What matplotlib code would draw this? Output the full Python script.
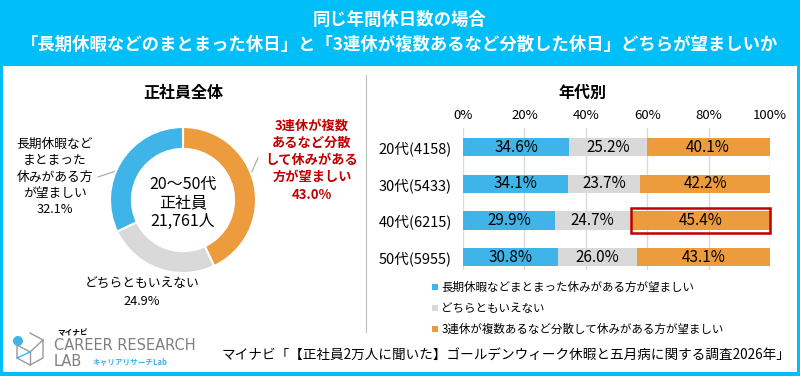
import matplotlib.pyplot as plt
from matplotlib.patches import Rectangle, Circle

plt.rcParams['font.family'] = ['Noto Sans CJK JP', 'DejaVu Sans']

# data
title_lines = ['同じ年間休日数の場合',
               '「長期休暇などのまとまった休日」と「3連休が複数あるなど分散した休日」どちらが望ましいか']
answers = ['長期休暇などまとまった休みがある方が望ましい',
           'どちらともいえない',
           '3連休が複数あるなど分散して休みがある方が望ましい']
total_share = [32.1, 24.9, 43.0]
ages = ['20代(4158)', '30代(5433)', '40代(6215)', '50代(5955)']
age_long = [34.6, 34.1, 29.9, 30.8]
age_neutral = [25.2, 23.7, 24.7, 26.0]
age_spread = [40.1, 42.2, 45.4, 43.1]
xticks = [0, 20, 40, 60, 80, 100]
source = 'マイナビ「【正社員2万人に聞いた】ゴールデンウィーク休暇と五月病に関する調査2026年」'

CYAN = '#00BEF8'
BLUE = '#3FB4E8'
GRAY = '#D9D9D9'
ORANGE = '#EC9B3D'
RED = '#C00000'

W, H = 800, 376
fig = plt.figure(figsize=(W / 100, H / 100), dpi=100, facecolor=CYAN)

# overlay in pixel coords
bg = fig.add_axes([0, 0, 1, 1])
bg.set_xlim(0, W)
bg.set_ylim(H, 0)
bg.axis('off')
bg.add_patch(Rectangle((3, 66), 794, 306, facecolor='white', edgecolor='none'))
bg.text(400, 20, title_lines[0], ha='center', va='center', color='white',
        fontsize=12.5, fontweight='bold')
bg.text(400, 45, title_lines[1], ha='center', va='center', color='white',
        fontsize=12.5, fontweight='bold')
bg.plot([366, 366], [75, 332], color='#BFBFBF', lw=0.8)
bg.text(183, 93, '正社員全体', ha='center', va='center', fontsize=11.5, fontweight='bold')
bg.text(582, 93, '年代別', ha='center', va='center', fontsize=11.5, fontweight='bold')

# donut labels
bg.text(55, 177, '長期休暇など\nまとまった\n休みがある方\nが望ましい\n%.1f%%' % total_share[0],
        ha='center', va='center', fontsize=9.2, linespacing=1.33)
bg.text(312, 160, '3連休が複数\nあるなど分散\nして休みがある\n方が望ましい\n%.1f%%' % total_share[2],
        ha='center', va='center', fontsize=9.5, linespacing=1.3, color=RED, fontweight='bold')
bg.text(142, 293, '%s\n%.1f%%' % (answers[1], total_share[1]),
        ha='center', va='center', fontsize=9.2, linespacing=1.35)
bg.plot([98, 128], [177, 167], color='#A6A6A6', lw=0.8)
bg.plot([258, 245], [158, 187], color='#A6A6A6', lw=0.8)
bg.text(183, 203, '20～50代\n正社員\n21,761人', ha='center', va='center',
        fontsize=11.5, linespacing=1.1)

# source and logo
bg.text(790, 355, source, ha='right', va='center', fontsize=9.8)
bg.plot([30, 43, 43, 30, 17, 17, 30, 43], [333, 340, 358, 365, 358, 345, 352, 340],
        color='#9A9A9A', lw=1.0)
bg.plot([30, 30], [352, 365], color='#9A9A9A', lw=1.0)
bg.plot([17, 30], [358, 352], color=BLUE, lw=1.0)
bg.add_patch(Circle((18, 341), 5, facecolor=BLUE, edgecolor='none'))
bg.text(57, 333, 'マイナビ', ha='left', va='center', fontsize=5.5, fontweight='bold')
bg.text(54, 346, 'CAREER RESEARCH', ha='left', va='center', fontsize=10.5,
        color='#7F7F7F', family='DejaVu Sans')
bg.text(54, 362, 'LAB', ha='left', va='center', fontsize=10.5, color='#7F7F7F',
        family='DejaVu Sans')
bg.text(92, 362, 'キャリアリサーチLab', ha='left', va='center', fontsize=5.5,
        color=BLUE, fontweight='bold')

# donut
r = 73
cx, cy = 183, 200
ax1 = fig.add_axes([(cx - r) / W, (H - cy - r) / H, 2 * r / W, 2 * r / H])
ax1.pie([total_share[2], total_share[1], total_share[0]],
        colors=[ORANGE, GRAY, BLUE], startangle=90, counterclock=False, radius=1,
        wedgeprops=dict(width=0.3, edgecolor='white', linewidth=1.5))
ax1.set_xlim(-1, 1)
ax1.set_ylim(-1, 1)

# stacked bars
x0, x1 = 463, 770
ytop, ybot = 128, 270
ax2 = fig.add_axes([x0 / W, (H - ybot) / H, (x1 - x0) / W, (ybot - ytop) / H])
ypos = list(range(len(ages)))
left2 = [a + b for a, b in zip(age_long, age_neutral)]
ax2.barh(ypos, age_long, height=0.5, color=BLUE, label=answers[0], zorder=2)
ax2.barh(ypos, age_neutral, left=age_long, height=0.5, color=GRAY, label=answers[1], zorder=2)
ax2.barh(ypos, age_spread, left=left2, height=0.5, color=ORANGE, label=answers[2], zorder=2)
for i in ypos:
    ax2.text(age_long[i] / 2, i, '%.1f%%' % age_long[i], ha='center', va='center', fontsize=11, zorder=3)
    ax2.text(age_long[i] + age_neutral[i] / 2, i, '%.1f%%' % age_neutral[i], ha='center', va='center', fontsize=11, zorder=3)
    ax2.text(left2[i] + age_spread[i] / 2, i, '%.1f%%' % age_spread[i], ha='center', va='center', fontsize=11, zorder=3)
k = age_spread.index(max(age_spread))
ax2.add_patch(Rectangle((left2[k], k - 0.33), 100 - left2[k], 0.66, fill=False,
                        edgecolor=RED, lw=1.8, zorder=4, clip_on=False))
ax2.set_xlim(0, 100)
ax2.set_ylim(3.35, -0.52)
ax2.set_xticks(xticks)
ax2.set_xticklabels(['%d%%' % t for t in xticks], fontsize=9.5)
ax2.xaxis.tick_top()
ax2.tick_params(length=0, pad=4)
ax2.set_yticks(ypos)
ax2.set_yticklabels(ages, fontsize=10.5)
ax2.tick_params(axis='y', pad=8)
ax2.grid(axis='x', color=GRAY, lw=1, zorder=0)
for s in ax2.spines.values():
    s.set_visible(False)
ax2.legend(loc='upper left', bbox_to_anchor=(432 / W, 1 - 281 / H),
           bbox_transform=fig.transFigure, frameon=False, fontsize=8.3,
           handlelength=0.5, handleheight=0.5, handletextpad=0.3, labelspacing=0.7,
           borderpad=0, borderaxespad=0)

fig.savefig('out.png', dpi=100, facecolor=CYAN)
